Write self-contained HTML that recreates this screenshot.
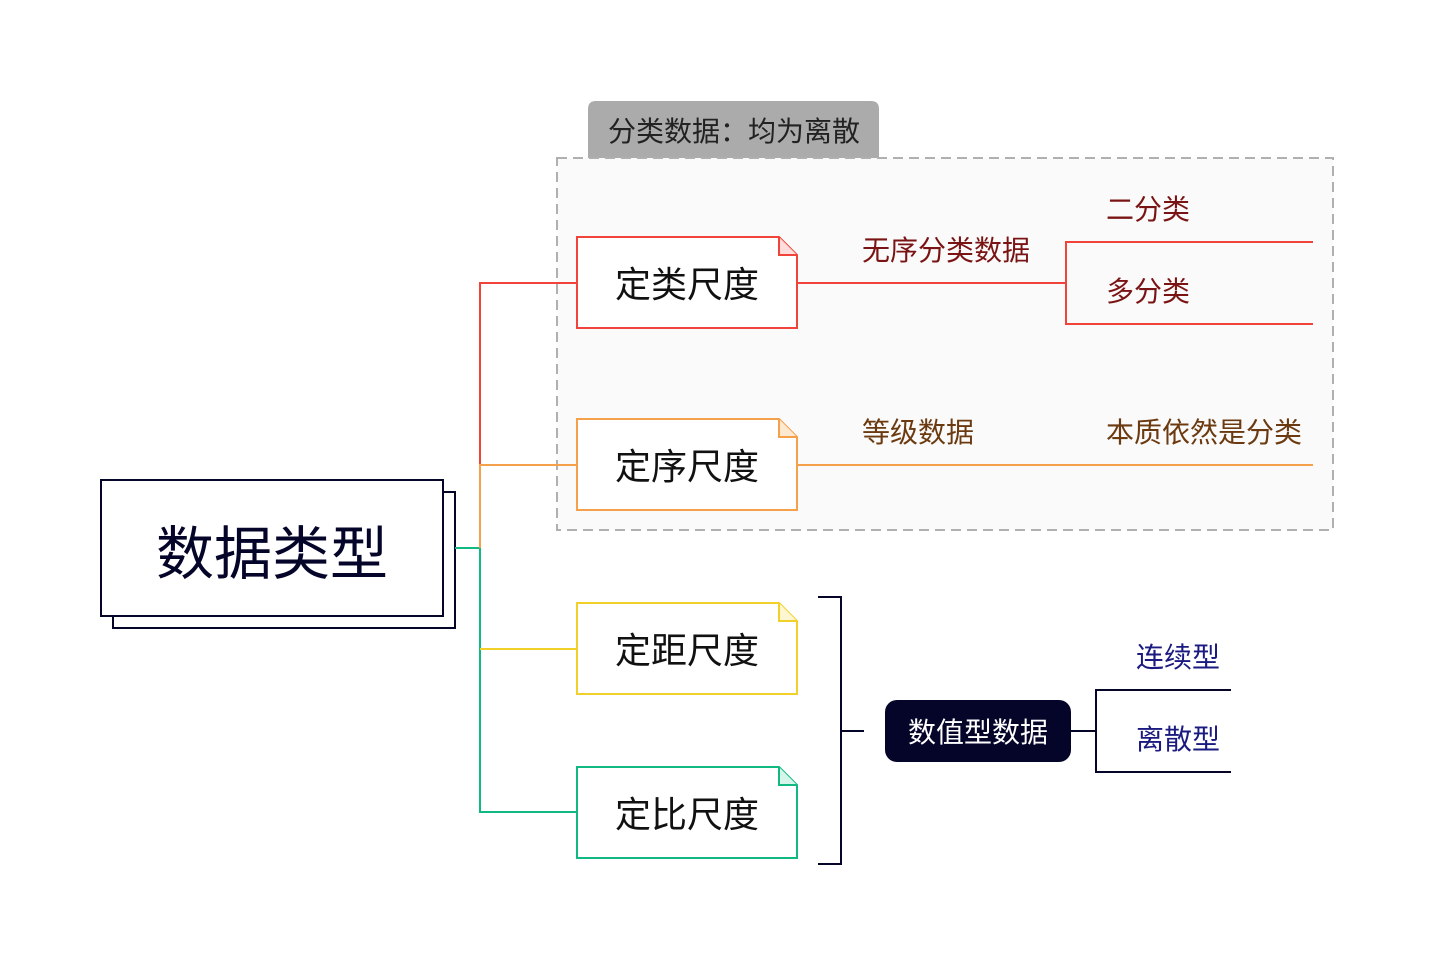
<!DOCTYPE html>
<html><head><meta charset="utf-8"><style>
html,body{margin:0;padding:0;background:#fff;}
svg text{font-family:"Liberation Sans","Noto Sans CJK SC",sans-serif;}
</style></head><body>
<svg width="1434" height="966" viewBox="0 0 1434 966" xmlns="http://www.w3.org/2000/svg">
<rect x="0" y="0" width="1434" height="966" fill="#fff"/>
<!-- tab -->
<path d="M588,158 L588,109 Q588,101 596,101 L871,101 Q879,101 879,109 L879,158 Z" fill="#ababab"/>
<text x="608" y="141" font-size="28" fill="#222">分类数据：均为离散</text>
<!-- dashed group -->
<rect x="557" y="158" width="776" height="372" fill="#fafafa" stroke="#b0b0b0" stroke-width="2" stroke-dasharray="10,6"/>

<!-- main node -->
<rect x="113" y="492" width="342" height="136" fill="#fff" stroke="#05052a" stroke-width="2"/>
<rect x="101" y="480" width="342" height="136" fill="#fff" stroke="#05052a" stroke-width="2"/>
<text x="272" y="574" font-size="58" fill="#05052a" text-anchor="middle">数据类型</text>

<!-- connectors -->
<g fill="none" stroke-width="2">
<path d="M455,548 H480" stroke="#10b981"/>
<path d="M480,548 V283 H577" stroke="#f0443a"/>
<path d="M480,548 V465 H577" stroke="#f5a04a"/>
<path d="M480,548 V812 H577" stroke="#10b981"/>
<path d="M480,649 H577" stroke="#f2d02a"/>
<path d="M797,283 H1066 M1313,242 H1066 V324 H1313" stroke="#f0443a"/>
<path d="M797,465 H1313" stroke="#f5a04a"/>
<path d="M818,597 H841 V864 H818 M841,731 H864" stroke="#05052a"/>
<path d="M1071,731 H1096 M1231,690 H1096 V772 H1231" stroke="#05052a"/>
</g>

<!-- scale nodes -->
<g stroke-width="2">
<path d="M577,237 H779 L797,255 V328 H577 Z" fill="#fff" stroke="#f0443a"/>
<path d="M779,237 V255 H797" fill="#fdd" stroke="#f0443a"/>
<path d="M577,419 H779 L797,437 V510 H577 Z" fill="#fff" stroke="#f5a04a"/>
<path d="M779,419 V437 H797" fill="#fde9d0" stroke="#f5a04a"/>
<path d="M577,603 H779 L797,621 V694 H577 Z" fill="#fff" stroke="#f2d02a"/>
<path d="M779,603 V621 H797" fill="#fdf6d0" stroke="#f2d02a"/>
<path d="M577,767 H779 L797,785 V858 H577 Z" fill="#fff" stroke="#10b981"/>
<path d="M779,767 V785 H797" fill="#d5f5ea" stroke="#10b981"/>
</g>
<g font-size="36" fill="#111" text-anchor="middle">
<text x="687" y="297">定类尺度</text>
<text x="687" y="479">定序尺度</text>
<text x="687" y="663">定距尺度</text>
<text x="687" y="827">定比尺度</text>
</g>

<!-- labels -->
<g font-size="28">
<text x="862" y="260" fill="#7a1414">无序分类数据</text>
<text x="1106" y="219" fill="#7a1414">二分类</text>
<text x="1106" y="301" fill="#7a1414">多分类</text>
<text x="862" y="442" fill="#6b3a10">等级数据</text>
<text x="1106" y="442" fill="#6b3a10">本质依然是分类</text>
<text x="1136" y="667" fill="#1a1a80">连续型</text>
<text x="1136" y="749" fill="#1a1a80">离散型</text>
</g>

<!-- numeric node -->
<rect x="885" y="700" width="186" height="62" rx="12" fill="#05052a"/>
<text x="978" y="742" font-size="28" fill="#fff" text-anchor="middle">数值型数据</text>
</svg>
</body></html>
